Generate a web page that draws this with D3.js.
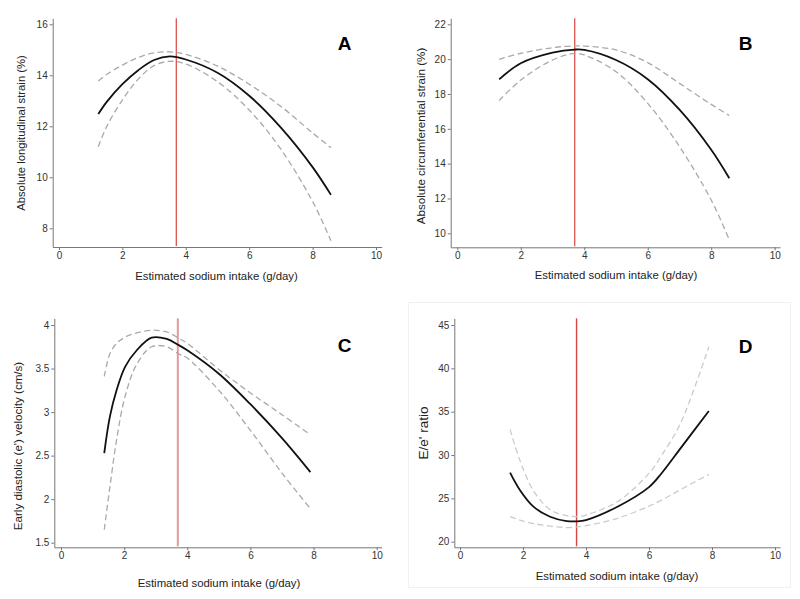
<!DOCTYPE html>
<html>
<head>
<meta charset="utf-8">
<script src="https://cdn.jsdelivr.net/npm/d3@7"></script>
<style>
  html, body { margin: 0; padding: 0; background: #fff; }
  svg { display: block; font-family: "Liberation Sans", Arial, Helvetica, sans-serif; }
</style>
</head>
<body>
<svg id="chart" width="800" height="599"></svg>
<script>
// ---------- DATA ----------
const xTicks = [0, 2, 4, 6, 8, 10];
const xTitle = "Estimated sodium intake (g/day)";
const refSodium = 3.7;

// Panel A
const xA = [1.24, 1.5, 2, 2.5, 3, 3.5, 4, 5, 6, 7, 8, 8.58];
const solidA = [12.48, 12.95, 13.65, 14.2, 14.6, 14.74, 14.62, 14.1, 13.2, 11.95, 10.4, 9.31];
const upperA = [13.78, 14.03, 14.4, 14.7, 14.88, 14.92, 14.82, 14.36, 13.65, 12.78, 11.74, 11.16];
const lowerA = [11.2, 11.98, 13.03, 13.85, 14.38, 14.55, 14.44, 13.75, 12.64, 11.1, 9.05, 7.51];
const yTicksA = [8, 10, 12, 14, 16];

// Panel B
const xB = [1.32, 2, 3, 3.7, 4, 5, 6, 7, 8, 8.57];
const solidB = [18.84, 19.76, 20.37, 20.55, 20.53, 19.95, 18.85, 17.1, 14.8, 13.16];
const upperB = [19.99, 20.33, 20.66, 20.76, 20.75, 20.53, 19.8, 18.61, 17.4, 16.76];
const lowerB = [17.62, 18.8, 19.95, 20.33, 20.24, 19.28, 17.46, 14.98, 11.91, 9.62];
const yTicksB = [10, 12, 14, 16, 18, 20, 22];

// Panel C
const xC = [1.37, 1.55, 1.76, 2.03, 2.4, 2.87, 3.35, 3.72, 4, 5, 6, 7, 7.9];
const solidC = [2.53, 2.95, 3.25, 3.52, 3.71, 3.855, 3.84, 3.77, 3.71, 3.44, 3.09, 2.70, 2.31];
const upperC = [3.41, 3.67, 3.79, 3.86, 3.91, 3.94, 3.92, 3.85, 3.79, 3.49, 3.22, 2.97, 2.74];
const lowerC = [1.65, 2.14, 2.68, 3.18, 3.55, 3.75, 3.75, 3.67, 3.62, 3.25, 2.79, 2.30, 1.89];
const yTicksC = [1.5, 2, 2.5, 3, 3.5, 4];

// Panel D
const xD = [1.59, 1.9, 2.33, 2.86, 3.39, 3.7, 4, 5, 6, 6.4, 7, 7.9];
const solidD = [27.96, 25.96, 24.04, 22.88, 22.38, 22.35, 22.5, 24.04, 26.3, 27.9, 30.77, 35.08];
const upperD = [32.96, 29.4, 25.9, 23.7, 23.0, 22.9, 23.08, 24.62, 27.88, 29.95, 33.65, 42.5];
const lowerD = [22.88, 22.5, 22.1, 21.8, 21.62, 21.7, 21.85, 22.7, 24.1, 24.8, 26.0, 27.77];
const yTicksD = [20, 25, 30, 35, 40, 45];

// ---------- LAYOUT ----------
const panels = [
  { letter: "A", xs: xA, solid: solidA, upper: upperA, lower: lowerA, yTicks: yTicksA,
    yTitle: "Absolute longitudinal strain (%)", yTitleSize: 11.3, yTitleX: 21, yTitleY: 133,
    axisX: 52.7, x0: 59, x10: 376, xRight: 381.7, top: 18.3, bottom: 247,
    yv: [8, 16], yp: [228.3, 24.3],
    xTitleX: 216.5, xTitleY: 280, letterX: 344.5, letterY: 50,
    dashColor: "#a9a9a9", red: "#d9463e", redW: 1.2 },
  { letter: "B", xs: xB, solid: solidB, upper: upperB, lower: lowerB, yTicks: yTicksB,
    yTitle: "Absolute circumferential strain (%)", yTitleSize: 11.6, yTitleX: 420, yTitleY: 136,
    axisX: 450.7, x0: 457.3, x10: 774.7, xRight: 780, top: 18.3, bottom: 247.3,
    yv: [10, 22], yp: [233.3, 24.3],
    xTitleX: 616, xTitleY: 279, letterX: 745.5, letterY: 50,
    dashColor: "#a9a9a9", red: "#d9463e", redW: 1.2 },
  { letter: "C", xs: xC, solid: solidC, upper: upperC, lower: lowerC, yTicks: yTicksC,
    yTitle: "Early diastolic (e') velocity (cm/s)", yTitleSize: 11.6, yTitleX: 17, yTitleY: 446,
    axisX: 54.3, x0: 61, x10: 376.7, xRight: 381.7, top: 318.3, bottom: 547.3,
    yv: [1.5, 4], yp: [542.7, 325],
    xTitleX: 219, xTitleY: 587, letterX: 344.5, letterY: 352,
    dashColor: "#a9a9a9", red: "#e39a9a", redW: 2 },
  { letter: "D", xs: xD, solid: solidD, upper: upperD, lower: lowerD, yTicks: yTicksD,
    yTitle: "E/e' ratio", yTitleSize: 13.5, yTitleX: 423, yTitleY: 433,
    axisX: 454.3, x0: 460, x10: 775, xRight: 780, top: 318.3, bottom: 547.3,
    yv: [20, 45], yp: [541.7, 325],
    xTitleX: 617, xTitleY: 580, letterX: 745.5, letterY: 353,
    dashColor: "#cbcbcb", red: "#d9463e", redW: 1.4 }
];

const svg = d3.select("#chart");

// faint frame around panel D
svg.append("rect")
  .attr("x", 408.5).attr("y", 302.5).attr("width", 382).attr("height", 285)
  .attr("fill", "none").attr("stroke", "#f0f0f0").attr("stroke-width", 1);

panels.forEach(p => {
  const xBase = d3.scaleLinear().domain([0, 10]).range([p.x0, p.x10]);
  const x = d3.scaleLinear()
    .domain([xBase.invert(p.axisX), xBase.invert(p.xRight)])
    .range([p.axisX, p.xRight]);
  const yBase = d3.scaleLinear().domain(p.yv).range(p.yp);
  const y = d3.scaleLinear()
    .domain([yBase.invert(p.bottom), yBase.invert(p.top)])
    .range([p.bottom, p.top]);

  const g = svg.append("g");

  const xAxis = g.append("g")
    .attr("transform", `translate(0,${p.bottom})`)
    .call(d3.axisBottom(x).tickValues(xTicks).tickSize(3).tickSizeOuter(0).tickPadding(2).tickFormat(d3.format("d")));
  const yAxis = g.append("g")
    .attr("transform", `translate(${p.axisX},0)`)
    .call(d3.axisLeft(y).tickValues(p.yTicks).tickSize(3).tickSizeOuter(0).tickPadding(2).tickFormat(d => String(d)));

  [xAxis, yAxis].forEach(a => {
    a.select(".domain").attr("stroke", "#777").attr("stroke-width", 1);
    a.selectAll(".tick line").attr("stroke", "#777");
    a.selectAll(".tick text").attr("fill", "#333").style("font-size", "10px")
      .style("font-family", "'Liberation Sans', Arial, sans-serif");
  });

  g.append("line")
    .attr("x1", x(refSodium)).attr("x2", x(refSodium))
    .attr("y1", p.top).attr("y2", p.bottom - 1)
    .attr("stroke", p.red).attr("stroke-width", p.redW);

  const mk = vals => d3.line()
    .x((d, i) => x(p.xs[i]))
    .y(d => y(d))
    .curve(d3.curveCatmullRom.alpha(0.5))(vals);

  [p.upper, p.lower].forEach(vals => {
    g.append("path").attr("d", mk(vals))
      .attr("fill", "none").attr("stroke", p.dashColor)
      .attr("stroke-width", 1.3).attr("stroke-dasharray", "6,3.5");
  });
  g.append("path").attr("d", mk(p.solid))
    .attr("fill", "none").attr("stroke", "#111").attr("stroke-width", 1.8);

  g.append("text")
    .attr("x", p.xTitleX).attr("y", p.xTitleY)
    .attr("text-anchor", "middle").attr("fill", "#222")
    .style("font-size", "11.4px").text(xTitle);

  g.append("text")
    .attr("transform", `translate(${p.yTitleX},${p.yTitleY}) rotate(-90)`)
    .attr("text-anchor", "middle").attr("dominant-baseline", "central").attr("fill", "#222")
    .style("font-size", p.yTitleSize + "px").text(p.yTitle);

  g.append("text")
    .attr("x", p.letterX).attr("y", p.letterY)
    .attr("text-anchor", "middle").attr("fill", "#000")
    .style("font-size", "19px").style("font-weight", "bold").text(p.letter);
});
</script>
</body>
</html>
